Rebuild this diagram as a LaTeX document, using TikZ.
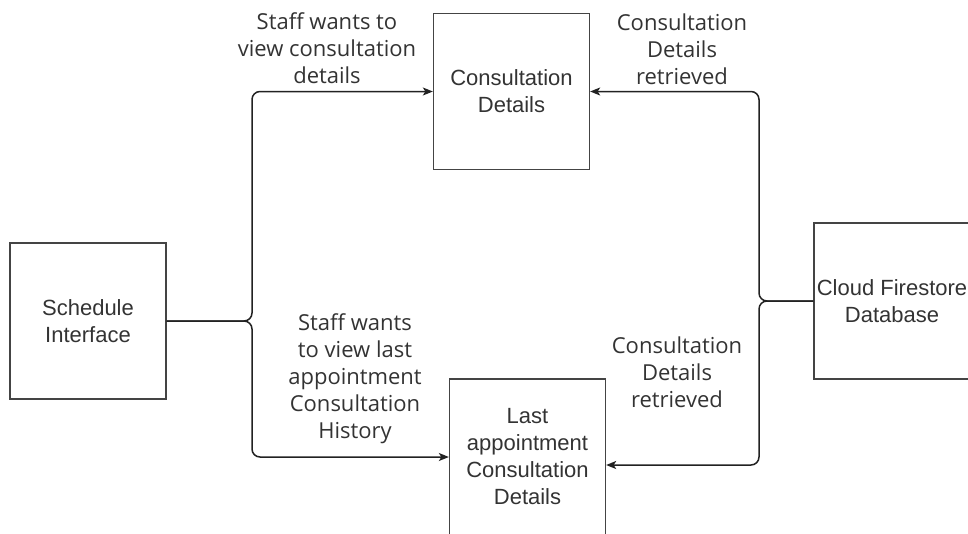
\documentclass[tikz,border=0pt]{standalone}
\usepackage{fontspec}
\setmainfont{Liberation Sans}
\newfontfamily\labelfont{Open Sans}
\usetikzlibrary{arrows.meta}
\definecolor{textgray}{HTML}{333333}
\definecolor{boxgray}{HTML}{444444}
\definecolor{linegray}{HTML}{222222}
\begin{document}
\begin{tikzpicture}[x=1pt,y=-1pt,
  box/.style={draw=boxgray, line width=1.3pt, minimum width=156pt, minimum height=156pt,
    align=center, inner sep=0pt, font=\fontsize{22}{27}\selectfont, text=textgray},
  flow/.style={draw=linegray, line width=1.5pt, rounded corners=8pt,
    -{Stealth[length=10pt,width=8pt,inset=2.5pt]}},
  lbl/.style={align=center, inner sep=0pt, font=\labelfont\fontsize{22}{27}\selectfont, text=textgray}]
  \useasboundingbox (0,0) rectangle (968,533);
  \clip (0,0) rectangle (968,533);

  % processes and data store
  \node[box] (sched) at (88,321)    {Schedule\\Interface};
  \node[box] (cons)  at (511.5,91.5) {Consultation\\Details};
  \node[box] (cloud) at (892,301)   {Cloud Firestore\\Database};
  \node[box] (last)  at (527.5,457) {Last\\appointment\\Consultation\\Details};

  % branching points of the flows
  \coordinate (jl) at (252,321);
  \coordinate (jr) at (759,301);

  % requests from the schedule interface
  \draw[flow] (sched.east) -- (jl) |- (cons.west);
  \draw[flow] (sched.east) -- (jl) |- (last.west);

  % data returned from the database
  \draw[flow] (cloud.west) -- (jr) |- (cons.east);
  \draw[flow] (cloud.west) -- (jr) |- (last.east |- 0,465);

  % flow labels
  \node[lbl] (l1) at (327,48)  {Staff wants to\\view consultation\\details};
  \node[lbl] (l2) at (682,49)  {Consultation\\Details\\retrieved};
  \node[lbl] (l3) at (355,379) {Staff wants\\to view last\\appointment\\Consultation\\History};
  \node[lbl] (l4) at (677,372) {Consultation\\Details\\retrieved};
\end{tikzpicture}
\end{document}
